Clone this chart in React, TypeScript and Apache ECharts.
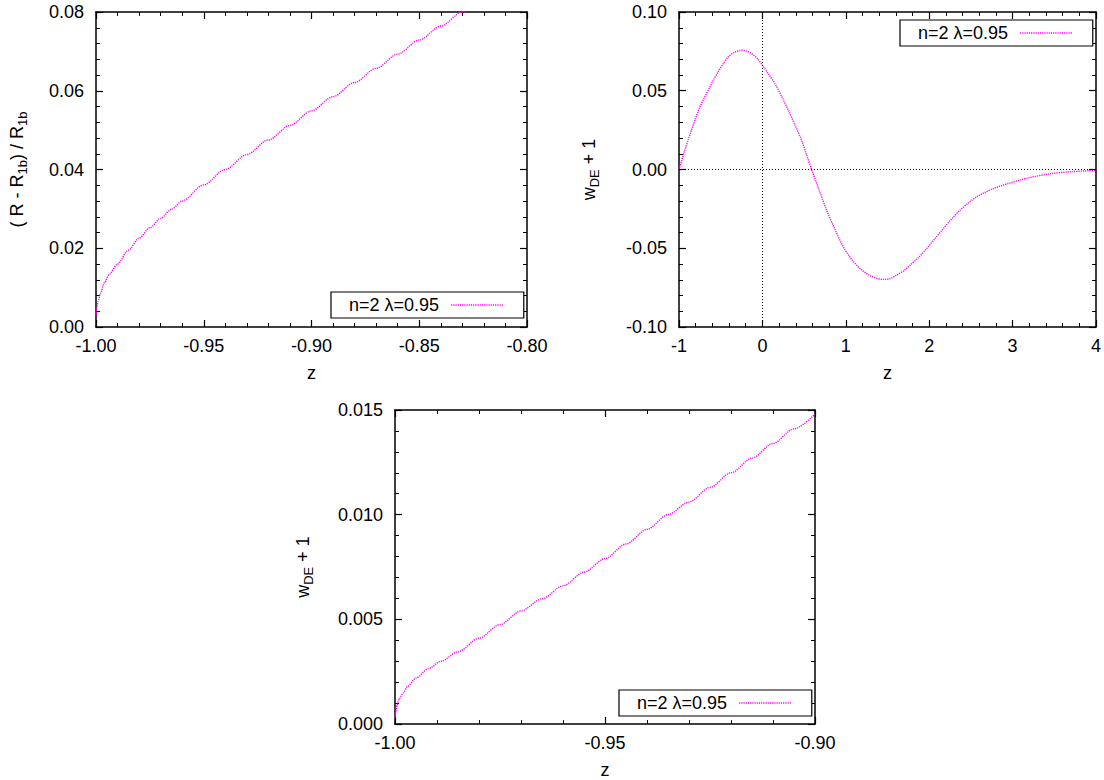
import React, { useEffect, useRef } from "react";
import * as echarts from "echarts";

const LEGEND_NAME = "n=2 λ=0.95";

// Panel A: (R - R1b)/R1b vs z
const zA = [-1.0, -0.9997, -0.999, -0.998, -0.996, -0.994, -0.99, -0.985, -0.98, -0.975, -0.97, -0.965, -0.96, -0.95, -0.94, -0.93, -0.92, -0.91, -0.9, -0.89, -0.88, -0.87, -0.86, -0.85, -0.84, -0.83, -0.82];
const ratioA = [0.003, 0.0048, 0.0065, 0.0085, 0.0113, 0.0133, 0.016, 0.0195, 0.0226, 0.0252, 0.0276, 0.0299, 0.032, 0.0361, 0.04, 0.0438, 0.0475, 0.0512, 0.0549, 0.0585, 0.0621, 0.0657, 0.0693, 0.0729, 0.0764, 0.08, 0.0836];

// Panel B: w_DE + 1 vs z (wide range)
const zB = [-1.0, -0.97, -0.93, -0.89, -0.85, -0.8, -0.75, -0.7, -0.65, -0.59, -0.53, -0.47, -0.41, -0.33, -0.25, -0.19, -0.13, -0.06, 0.0, 0.07, 0.15, 0.23, 0.31, 0.39, 0.47, 0.53, 0.59, 0.68, 0.77, 0.87, 0.97, 1.07, 1.17, 1.3, 1.45, 1.53, 1.61, 1.69, 1.77, 1.87, 1.97, 2.07, 2.17, 2.27, 2.37, 2.47, 2.57, 2.67, 2.77, 2.87, 2.95, 3.1, 3.2, 3.45, 3.7, 4.0];
const wB = [0.0, 0.0053, 0.0123, 0.0188, 0.025, 0.0326, 0.0398, 0.0452, 0.0503, 0.0565, 0.062, 0.0672, 0.0715, 0.0745, 0.0757, 0.0752, 0.0736, 0.0705, 0.0662, 0.0608, 0.0546, 0.0465, 0.0377, 0.0283, 0.0186, 0.0093, 0.0, -0.013, -0.0258, -0.038, -0.0491, -0.057, -0.0629, -0.0676, -0.0698, -0.0693, -0.0671, -0.0644, -0.0608, -0.056, -0.0502, -0.0438, -0.0375, -0.0313, -0.0258, -0.0212, -0.0174, -0.0145, -0.0121, -0.0102, -0.0089, -0.0066, -0.0052, -0.0027, -0.0014, -0.0006];

// Panel C: w_DE + 1 vs z (zoom near -1)
const zC = [-1.0, -0.9998, -0.9995, -0.999, -0.998, -0.997, -0.995, -0.992, -0.989, -0.985, -0.98, -0.975, -0.97, -0.965, -0.96, -0.955, -0.95, -0.945, -0.94, -0.935, -0.93, -0.925, -0.92, -0.915, -0.91, -0.905, -0.9];
const wC = [0.0003, 0.0006, 0.0009, 0.0012, 0.0015, 0.0018, 0.0022, 0.00265, 0.003, 0.00345, 0.0041, 0.00475, 0.0054, 0.00598, 0.0066, 0.00725, 0.0079, 0.0086, 0.0093, 0.01, 0.0106, 0.0113, 0.012, 0.0127, 0.0134, 0.0141, 0.0148];

// Tick values
const xTicksA = [-1.0, -0.95, -0.9, -0.85, -0.8];
const yTicksA = [0.0, 0.02, 0.04, 0.06, 0.08];
const xTicksB = [-1, 0, 1, 2, 3, 4];
const yTicksB = [-0.1, -0.05, 0.0, 0.05, 0.1];
const xTicksC = [-1.0, -0.95, -0.9];
const yTicksC = [0.0, 0.005, 0.01, 0.015];

const FONT = "'Liberation Sans', Arial, Helvetica, sans-serif";
const MAGENTA = "#ff00ff";
const FS = 18;

function axisPair(
  kind: "x" | "y",
  gridIndex: number,
  ticks: number[],
  minorSplit: number,
  digits: number,
  name: string,
  nameGap: number
) {
  const interval = +(ticks[1] - ticks[0]).toFixed(8);
  const base = (main: boolean) => ({
    type: "value",
    gridIndex,
    position: kind === "x" ? (main ? "bottom" : "top") : main ? "left" : "right",
    min: ticks[0],
    max: ticks[ticks.length - 1],
    interval,
    axisLine: { show: true, onZero: false, lineStyle: { color: "#000", width: 1.5 } },
    axisTick: { show: true, inside: true, length: 7, lineStyle: { color: "#000", width: 1.2 } },
    minorTick: { show: true, splitNumber: minorSplit, length: 4, lineStyle: { color: "#000", width: 1 } },
    splitLine: { show: false },
    minorSplitLine: { show: false },
    axisLabel: {
      show: main,
      margin: kind === "x" ? 10 : 12,
      fontSize: FS,
      fontFamily: FONT,
      color: "#000",
      formatter: (v: number) => (Math.abs(v) < 1e-12 ? 0 : v).toFixed(digits),
    },
    ...(main
      ? {
          name,
          nameLocation: "middle",
          nameGap,
          nameRotate: kind === "y" ? 90 : 0,
          nameTextStyle: {
            fontSize: FS,
            fontFamily: FONT,
            color: "#000",
            rich: {
              n: { fontSize: FS, lineHeight: 24, fontFamily: FONT, color: "#000" },
              s: { fontSize: 13, lineHeight: 10, verticalAlign: "bottom", fontFamily: FONT, color: "#000" },
            },
          },
        }
      : {}),
  });
  return [base(true), base(false)];
}

function legendAt(left: number, top: number) {
  return {
    show: true,
    left,
    top,
    orient: "horizontal",
    align: "right",
    data: [LEGEND_NAME],
    selectedMode: false,
    itemWidth: 52,
    itemHeight: 14,
    padding: [4, 20, 4, 18],
    borderColor: "#000",
    borderWidth: 1.2,
    borderRadius: 0,
    backgroundColor: "#fff",
    formatter: (n: string) => `{t|${n}}`,
    textStyle: {
      fontSize: FS,
      fontFamily: FONT,
      color: "#000",
      lineHeight: 18,
      rich: { t: { fontSize: FS, fontFamily: FONT, color: "#000", padding: [0, 7, 0, 0] } },
    },
    itemStyle: { opacity: 0, borderWidth: 0 },
    lineStyle: { color: MAGENTA, width: 1.4, type: [1.2, 1], opacity: 1 },
  };
}

const lineStyle = { color: MAGENTA, width: 1.4, type: [1.2, 1] };

export default function App() {
  const ref = useRef<HTMLDivElement>(null);

  useEffect(() => {
    if (!ref.current) return;
    const chart = echarts.init(ref.current, undefined, { renderer: "svg" });

    const xA = axisPair("x", 0, xTicksA, 5, 2, "z", 37);
    const yA = axisPair("y", 0, yTicksA, 5, 2, "{n|( R - R}{s|1b}{n|) / R}{s|1b}", 67);
    const xB = axisPair("x", 1, xTicksB, 5, 0, "z", 37);
    const yB = axisPair("y", 1, yTicksB, 5, 2, "{n|w}{s|DE}{n| + 1}", 78);
    const xC = axisPair("x", 2, xTicksC, 5, 2, "z", 37);
    const yC = axisPair("y", 2, yTicksC, 5, 3, "{n|w}{s|DE}{n| + 1}", 80);

    chart.setOption({
      animation: false,
      backgroundColor: "#fff",
      grid: [
        { left: 96, top: 12, width: 431, height: 315, containLabel: false },
        { left: 679, top: 12, width: 417, height: 315, containLabel: false },
        { left: 395, top: 410, width: 420, height: 316, containLabel: false },
      ],
      xAxis: [...xA, ...xB, ...xC],
      yAxis: [...yA, ...yB, ...yC],
      legend: [legendAt(331, 292), legendAt(900, 20), legendAt(619, 690)],
      series: [
        {
          type: "line",
          name: LEGEND_NAME,
          xAxisIndex: 0,
          yAxisIndex: 0,
          data: zA.map((z, i) => [z, ratioA[i]]),
          symbol: "none",
          smooth: 0.3,
          smoothMonotone: "x",
          clip: true,
          lineStyle,
          itemStyle: { color: MAGENTA },
        },
        {
          type: "line",
          name: LEGEND_NAME,
          xAxisIndex: 2,
          yAxisIndex: 2,
          data: zB.map((z, i) => [z, wB[i]]),
          symbol: "none",
          smooth: 0.3,
          clip: true,
          lineStyle,
          itemStyle: { color: MAGENTA },
          markLine: {
            silent: true,
            symbol: ["none", "none"],
            label: { show: false },
            lineStyle: { color: "#000", width: 1, type: [1, 2] },
            emphasis: { disabled: true },
            data: [{ xAxis: 0 }, { yAxis: 0 }],
          },
        },
        {
          type: "line",
          name: LEGEND_NAME,
          xAxisIndex: 4,
          yAxisIndex: 4,
          data: zC.map((z, i) => [z, wC[i]]),
          symbol: "none",
          smooth: 0.3,
          smoothMonotone: "x",
          clip: true,
          lineStyle,
          itemStyle: { color: MAGENTA },
        },
      ],
    });

    return () => chart.dispose();
  }, []);

  return (
    <div
      ref={ref}
      style={{ position: "absolute", left: 0, top: 0, width: 1104, height: 780, background: "#fff" }}
    />
  );
}
